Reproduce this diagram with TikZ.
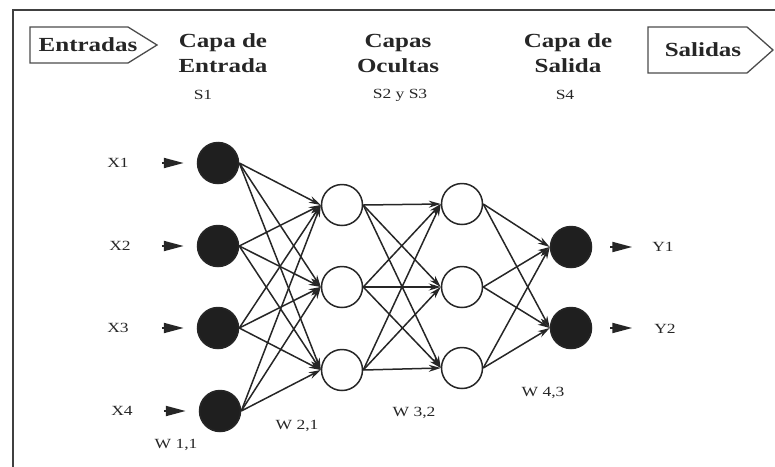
\documentclass[tikz,border=0pt]{standalone}
\usepackage{fontspec}
\setmainfont{Liberation Serif}[FakeStretch=1.25]
\usetikzlibrary{arrows.meta,positioning}

\begin{document}
\begin{tikzpicture}[x=1pt,y=-1pt,>={Stealth[length=12pt,width=7pt]},
    neuron/.style={circle,draw=black!85,line width=1.5pt,minimum size=41pt,inner sep=0pt},
    activa/.style={neuron,fill=black!88},
    oculta/.style={neuron,fill=white},
    layer/.style={align=center,font=\fontsize{20}{25}\selectfont\bfseries,text=black!85},
    tag/.style={font=\fontsize{14}{16}\selectfont,text=black!85},
    conn/.style={->,line width=1.5pt,draw=black!85},
    wedge/.style={-{Triangle[length=20pt,width=10pt]},line width=2pt,draw=black!85},
    signalbox/.style={draw=black!70,line width=1.3pt}]
    \useasboundingbox (0,0) rectangle (775,466);
    \draw[line width=2pt,draw=black!75] (13,800) -- (13,10) -- (800,10);
    %
    % cabecera
    \draw[signalbox] (30,27) -- (128,27) -- (157,45) -- (128,63) -- (30,63) -- cycle;
    \node[layer] (Entradas) at (88,45) {Entradas};
    \draw[signalbox] (648,27) -- (747,27) -- (773,50) -- (747,73) -- (648,73) -- cycle;
    \node[layer] (Salidas) at (703,50) {Salidas};
    \node[layer] (CapaEntrada) at (223,53) {Capa de\\Entrada};
    \node[layer] (CapasOcultas) at (398,53) {Capas\\Ocultas};
    \node[layer] (CapaSalida) at (568,53) {Capa de\\Salida};
    \node[tag] (S1) at (203,95) {S1};
    \node[tag] (S23) at (400,95) {S2 y S3};
    \node[tag] (S4) at (565,95) {S4};
    %
    % neuronas
    \node[activa] (in1) at (218,163) {};
    \node[activa] (in2) at (218,246) {};
    \node[activa] (in3) at (218,328) {};
    \node[activa] (in4) at (220,411) {};
    \node[oculta] (ha1) at (342,205) {};
    \node[oculta] (ha2) at (342,287) {};
    \node[oculta] (ha3) at (342,370) {};
    \node[oculta] (hb1) at (462,204) {};
    \node[oculta] (hb2) at (462,287) {};
    \node[oculta] (hb3) at (462,368) {};
    \node[activa] (out1) at (571,247) {};
    \node[activa] (out2) at (571,328) {};
    %
    % entradas y salidas
    \node[tag] (X1) at (118,163) {X1};
    \node[tag] (X2) at (120,246) {X2};
    \node[tag] (X3) at (118,328) {X3};
    \node[tag] (X4) at (122,411) {X4};
    \node[tag] (Y1) at (663,247) {Y1};
    \node[tag] (Y2) at (665,329) {Y2};
    \foreach \i in {1,...,4}
        \draw[wedge] ([xshift=-35pt]in\i.west) -- ([xshift=-13pt]in\i.west);
    \draw[wedge] ([xshift=18pt]out1.east) -- ([xshift=40pt]out1.east);
    \draw[wedge] ([xshift=18pt]out2.east) -- ([xshift=40pt]out2.east);
    %
    % pesos
    \foreach \i in {1,...,4}
        \foreach \j in {1,2,3}
            \draw[conn] (in\i.east) -- (ha\j.west);
    \foreach \i in {1,2,3}
        \foreach \j in {1,2,3}
            \draw[conn] (ha\i.east) -- (hb\j.west);
    \foreach \i in {1,2,3}
        \foreach \j in {1,2}
            \draw[conn] (hb\i.east) -- (out\j.west);
    \node[tag] (W11) at (176,445) {W 1,1};
    \node[tag] (W21) at (297,426) {W 2,1};
    \node[tag] (W32) at (414,413) {W 3,2};
    \node[tag] (W43) at (543,393) {W 4,3};
\end{tikzpicture}
\end{document}
